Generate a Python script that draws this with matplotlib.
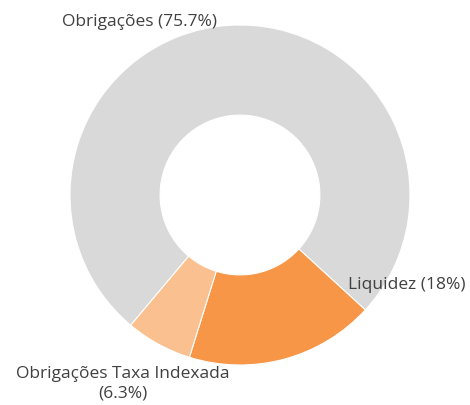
import matplotlib
matplotlib.use("Agg")
import matplotlib.pyplot as plt

plt.rcParams['font.family'] = ['Open Sans', 'DejaVu Sans']

# Data
labels = ["Obrigações", "Liquidez", "Obrigações Taxa Indexada"]
values = [75.7, 18.0, 6.3]
colors = ["#d9d9d9", "#f79646", "#fac090"]
label_text = ["Obrigações (75.7%)", "Liquidez (18%)", "Obrigações Taxa Indexada\n(6.3%)"]
label_pos = [(-0.59, 1.02), (0.98, -0.53), (-0.69, -1.11)]

# Figure: 470x405 px, pie centre at pixel (240, 195), radius 170 px
fig = plt.figure(figsize=(4.7, 4.05), dpi=100)
ax = fig.add_axes([0, 0, 1, 1])
scale = 170.0

ax.pie(values, colors=colors, startangle=230, counterclock=False,
       radius=1.0, wedgeprops=dict(width=0.53, edgecolor="white", linewidth=0.8))
ax.set_aspect("auto")
ax.set_xlim(-240 / scale, 230 / scale)
ax.set_ylim(-210 / scale, 195 / scale)
ax.axis("off")

for txt, (x, y) in zip(label_text, label_pos):
    ax.text(x, y, txt, ha="center", va="center", fontsize=12.5,
            color="#404040", linespacing=1.25)

fig.savefig("out.png", dpi=100)
plt.close(fig)
